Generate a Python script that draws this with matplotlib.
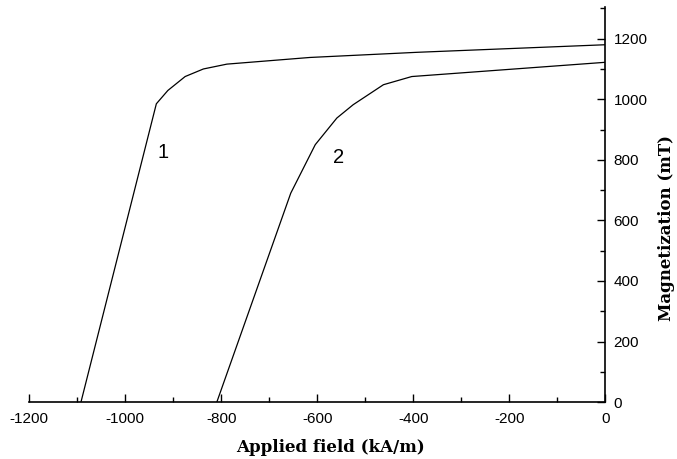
import matplotlib
matplotlib.use("Agg")
import matplotlib.pyplot as plt
from matplotlib.ticker import MultipleLocator

plt.rcParams["axes.unicode_minus"] = False

# Curve 1
field_1 = [-1092, -935, -911, -875, -837, -788, -615, -392, 0]
magn_1 = [0, 985, 1029, 1075, 1100, 1116, 1138, 1155, 1180]
# Curve 2
field_2 = [-809, -655, -604, -559, -525, -462, -403, 0]
magn_2 = [0, 690, 850, 938, 982, 1048, 1075, 1122]

curve_labels = ["1", "2"]
label_pos = [(-921, 825), (-556, 808)]

x_ticks = [-1200, -1000, -800, -600, -400, -200, 0]
y_ticks = [0, 200, 400, 600, 800, 1000, 1200]

fig = plt.figure(figsize=(6.77, 4.59), dpi=100)
ax = fig.add_axes([0.043, 0.124, 0.851, 0.861])

ax.plot(field_1, magn_1, color="black", lw=0.9)
ax.plot(field_2, magn_2, color="black", lw=0.9)

for lab, (lx, ly) in zip(curve_labels, label_pos):
    ax.text(lx, ly, lab, fontsize=14.5, family="Liberation Sans", ha="center", va="center")

ax.set_xlim(-1200, 0)
ax.set_ylim(0, 1305)

ax.spines["top"].set_visible(False)
ax.spines["left"].set_visible(False)
ax.spines["bottom"].set_linewidth(1.2)
ax.spines["right"].set_linewidth(1.2)

ax.yaxis.tick_right()
ax.yaxis.set_label_position("right")

ax.set_xticks(x_ticks)
ax.set_yticks(y_ticks)
ax.xaxis.set_minor_locator(MultipleLocator(100))
ax.yaxis.set_minor_locator(MultipleLocator(100))

ax.tick_params(which="both", direction="in", colors="black", width=1.0)
ax.tick_params(which="major", length=6)
ax.tick_params(which="minor", length=3.5)
ax.tick_params(axis="x", which="major", pad=7)
ax.tick_params(axis="y", which="major", pad=6)
for lbl in ax.get_xticklabels() + ax.get_yticklabels():
    lbl.set_fontfamily("Liberation Sans")
    lbl.set_fontsize(11)

ax.set_xlabel("Applied field (kA/m)", family="DejaVu Serif", fontweight="bold", fontsize=12)
ax.set_ylabel("Magnetization (mT)", family="DejaVu Serif", fontweight="bold", fontsize=12)
ax.xaxis.label.set_va("center")
ax.yaxis.label.set_va("center")
ax.xaxis.set_label_coords(0.5226, -0.114)
ax.yaxis.set_label_coords(1.106, 0.44)

fig.savefig("out.png", dpi=100)
